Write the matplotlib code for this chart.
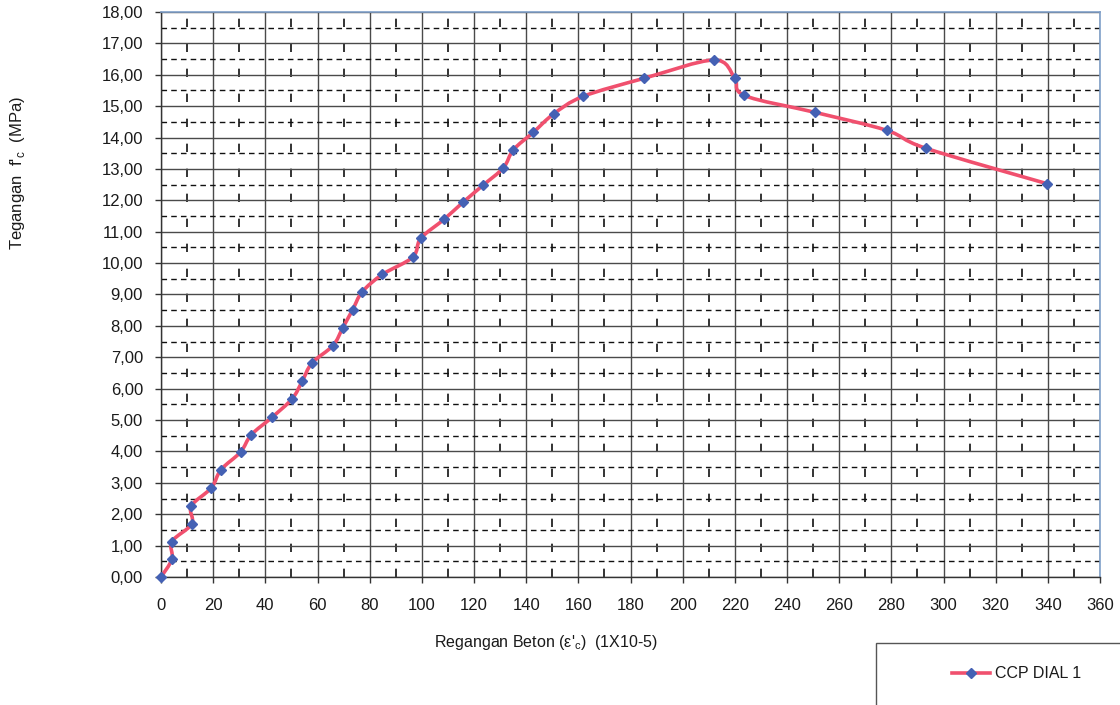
import matplotlib
matplotlib.use("Agg")
import matplotlib.pyplot as plt
import numpy as np
from matplotlib.path import Path
from matplotlib.patches import PathPatch, Rectangle
from matplotlib.lines import Line2D
from matplotlib.ticker import MultipleLocator, FuncFormatter

plt.rcParams['font.family'] = ['Liberation Sans', 'DejaVu Sans']

# Strain (x 1e-5) and stress (MPa) readings for CCP DIAL 1
strain = [0.0, 4.2, 4.2, 11.8, 11.6, 19.3, 23.0, 30.5, 34.6, 42.6, 50.3, 54.1,
          57.9, 65.9, 69.7, 73.5, 77.2, 84.9, 96.5, 99.6, 108.6, 115.8, 123.6,
          131.3, 135.1, 142.8, 150.5, 161.8, 185.3, 212.0, 219.9, 223.7,
          250.9, 278.2, 293.2, 339.7]
stress = [0.00, 0.57, 1.13, 1.69, 2.26, 2.84, 3.42, 3.98, 4.53, 5.09, 5.68, 6.23,
          6.82, 7.37, 7.94, 8.52, 9.09, 9.64, 10.19, 10.79, 11.40, 11.94, 12.49,
          13.04, 13.61, 14.17, 14.75, 15.31, 15.89, 16.47, 15.91, 15.34,
          14.80, 14.23, 13.66, 12.53]
series_name = "CCP DIAL 1"

x_ticks = list(range(0, 361, 20))
y_ticks = list(range(0, 19))

LINE_COLOR = "#f0506e"
MARKER_COLOR = "#4461b4"
TEXT_COLOR = "#1a1a1a"

fig = plt.figure(figsize=(11.2, 7.05), dpi=100)
ax = fig.add_axes([161 / 1120, 1 - 577 / 705, (1100 - 161) / 1120, (577 - 12) / 705])

ax.set_xlim(0, 360)
ax.set_ylim(0, 18)
ax.set_xticks(x_ticks)
ax.set_yticks(y_ticks)
ax.xaxis.set_minor_locator(MultipleLocator(10))
ax.yaxis.set_minor_locator(MultipleLocator(0.5))
ax.yaxis.set_major_formatter(FuncFormatter(lambda v, p: f"{v:.2f}".replace(".", ",")))

ax.grid(which="major", axis="both", color="#4a4a4a", lw=1.0, ls="-")
ax.grid(which="minor", axis="x", color="#111111", lw=1.2, ls=(0, (5, 10)))
ax.grid(which="minor", axis="y", color="#111111", lw=1.0, ls=(0, (4, 3)))
ax.set_axisbelow(True)

ax.tick_params(axis="both", which="major", direction="out", length=4, width=1,
               color="#333333", labelsize=12, labelcolor=TEXT_COLOR)
ax.tick_params(axis="y", which="major", pad=9)
ax.tick_params(axis="x", which="major", pad=11)
ax.tick_params(which="minor", length=0)

for side in ("left", "bottom"):
    ax.spines[side].set_color("#333333")
    ax.spines[side].set_linewidth(1.0)
for side in ("top", "right"):
    ax.spines[side].set_color("#7f9fc8")
    ax.spines[side].set_linewidth(1.2)

# Smoothed connecting curve (cubic Bezier segments through every reading)
pts = np.column_stack([strain, stress])
n = len(pts)
verts = [pts[0]]
codes = [Path.MOVETO]
for i in range(n - 1):
    p0 = pts[i - 1] if i > 0 else pts[i]
    p1 = pts[i]
    p2 = pts[i + 1]
    p3 = pts[i + 2] if i + 2 < n else pts[i + 1]
    c1 = p1 + (p2 - p0) / 6.0
    c2 = p2 - (p3 - p1) / 6.0
    verts += [c1, c2, p2]
    codes += [Path.CURVE4, Path.CURVE4, Path.CURVE4]
curve = PathPatch(Path(verts, codes), facecolor="none", edgecolor=LINE_COLOR,
                  lw=2.6, capstyle="round", joinstyle="round", zorder=3)
ax.add_patch(curve)

ax.plot(strain, stress, ls="none", marker="D", ms=5.5, mfc=MARKER_COLOR,
        mec=MARKER_COLOR, zorder=4, clip_on=False)

# Axis titles
fig.text(18 / 1120, 1 - 173 / 705, "Tegangan  f'$_\\mathregular{c}$  (MPa)",
         rotation=90, ha="center", va="center", fontsize=12, color=TEXT_COLOR)
fig.text(546 / 1120, 1 - 643 / 705, "Regangan Beton (ε'$_\\mathregular{c}$)  (1X10-5)",
         ha="center", va="center", fontsize=11.5, color=TEXT_COLOR)

# Legend box
fig.patches.append(Rectangle((876 / 1120, -0.05), 0.3, (1 - 643 / 705) + 0.05,
                             transform=fig.transFigure, facecolor="white",
                             edgecolor="#555555", lw=1.0))
fig.lines.append(Line2D([952 / 1120, 990 / 1120], [1 - 673 / 705] * 2,
                        transform=fig.transFigure, color=LINE_COLOR, lw=2.6))
fig.lines.append(Line2D([971 / 1120], [1 - 673 / 705], transform=fig.transFigure,
                        ls="none", marker="D", ms=5.5, mfc=MARKER_COLOR,
                        mec=MARKER_COLOR))
fig.text(995 / 1120, 1 - 673 / 705, series_name, ha="left", va="center",
         fontsize=11.5, color=TEXT_COLOR)

fig.savefig("out.png", dpi=100)
